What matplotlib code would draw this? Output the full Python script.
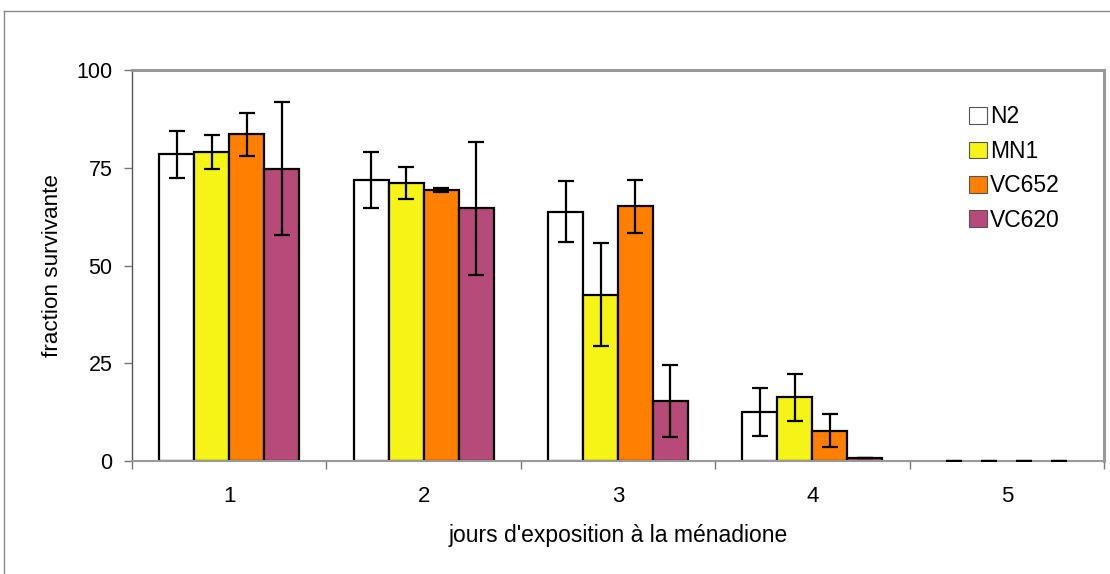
import numpy as np
import matplotlib.pyplot as plt
from matplotlib.lines import Line2D

plt.rcParams['font.family'] = ['Liberation Sans', 'DejaVu Sans']

days = ['1', '2', '3', '4', '5']
strains = ['N2', 'MN1', 'VC652', 'VC620']
colors = ['#FFFFFF', '#F6F316', '#FF8000', '#B64A78']

# mean survival fraction (%) per strain, days 1..5
n2 = [78.5, 71.8, 63.8, 12.6, 0]
mn1 = [79.0, 71.2, 42.5, 16.3, 0]
vc652 = [83.6, 69.3, 65.1, 7.7, 0]
vc620 = [74.8, 64.6, 15.4, 0.7, 0]

# error bars (+/-)
n2_err = [6.0, 7.2, 7.7, 6.1, 0]
mn1_err = [4.3, 4.1, 13.2, 6.0, 0]
vc652_err = [5.5, 0.5, 6.8, 4.2, 0]
vc620_err = [17.0, 17.0, 9.2, 0, 0]

means = [n2, mn1, vc652, vc620]
errs = [n2_err, mn1_err, vc652_err, vc620_err]

fig = plt.figure(figsize=(11.1, 5.74), dpi=100)
ax = fig.add_axes([132/1110, 1 - 461/574, (1104-132)/1110, (461-70)/574])

x = np.arange(1, len(days) + 1)
width = 0.18
offsets = [-1.5, -0.5, 0.5, 1.5]
for i in range(len(strains)):
    vals = np.array(means[i])
    lw = np.where(vals > 0, 1.6, 0)
    ax.bar(x + offsets[i]*width, vals, width, color=colors[i], edgecolor='black',
           linewidth=lw, label=strains[i], zorder=2)
    ax.errorbar(x + offsets[i]*width, vals, yerr=errs[i], fmt='none', ecolor='black',
                elinewidth=1.6, capsize=6, capthick=1.6, zorder=3)

ax.set_xlim(0.5, 5.5)
ax.set_ylim(0, 100)
ax.set_yticks([0, 25, 50, 75, 100])
ax.set_xticks(x)
ax.set_xticklabels(days)
ax.set_xticks(np.arange(0.5, 6, 1), minor=True)
ax.tick_params(axis='x', which='major', length=0, labelsize=16, pad=18)
ax.tick_params(axis='x', which='minor', length=6, width=1, color='#777777', direction='out')
ax.tick_params(axis='y', length=6, width=1, color='#777777', labelsize=15.5, pad=8)

ax.spines['left'].set_color('#555555')
ax.spines['left'].set_linewidth(1)
ax.spines['bottom'].set_color('#999999')
ax.spines['bottom'].set_linewidth(1.5)
for s in ['top', 'right']:
    ax.spines[s].set_color('#999999')
    ax.spines[s].set_linewidth(2.2)

ax.set_xlabel("jours d'exposition à la ménadione", fontsize=16.5, labelpad=12)
ax.set_ylabel('fraction survivante', fontsize=16.2, labelpad=10)

leg = ax.legend(loc='upper left', bbox_to_anchor=(958/1110, 1 - 94/574),
                bbox_transform=fig.transFigure, frameon=False, fontsize=16.5,
                handlelength=0.75, handleheight=0.75, handletextpad=0.15,
                labelspacing=0.5, borderpad=0)
for h in leg.legend_handles:
    h.set_edgecolor('#555555')
    h.set_linewidth(0.8)

# outer chart border
fig.add_artist(Line2D([4/1110, 4/1110], [0, 1 - 11/574], color='#888888', lw=1,
                      transform=fig.transFigure))
fig.add_artist(Line2D([4/1110, 1], [1 - 11/574, 1 - 11/574], color='#888888', lw=1,
                      transform=fig.transFigure))

fig.savefig('out.png', dpi=100)
